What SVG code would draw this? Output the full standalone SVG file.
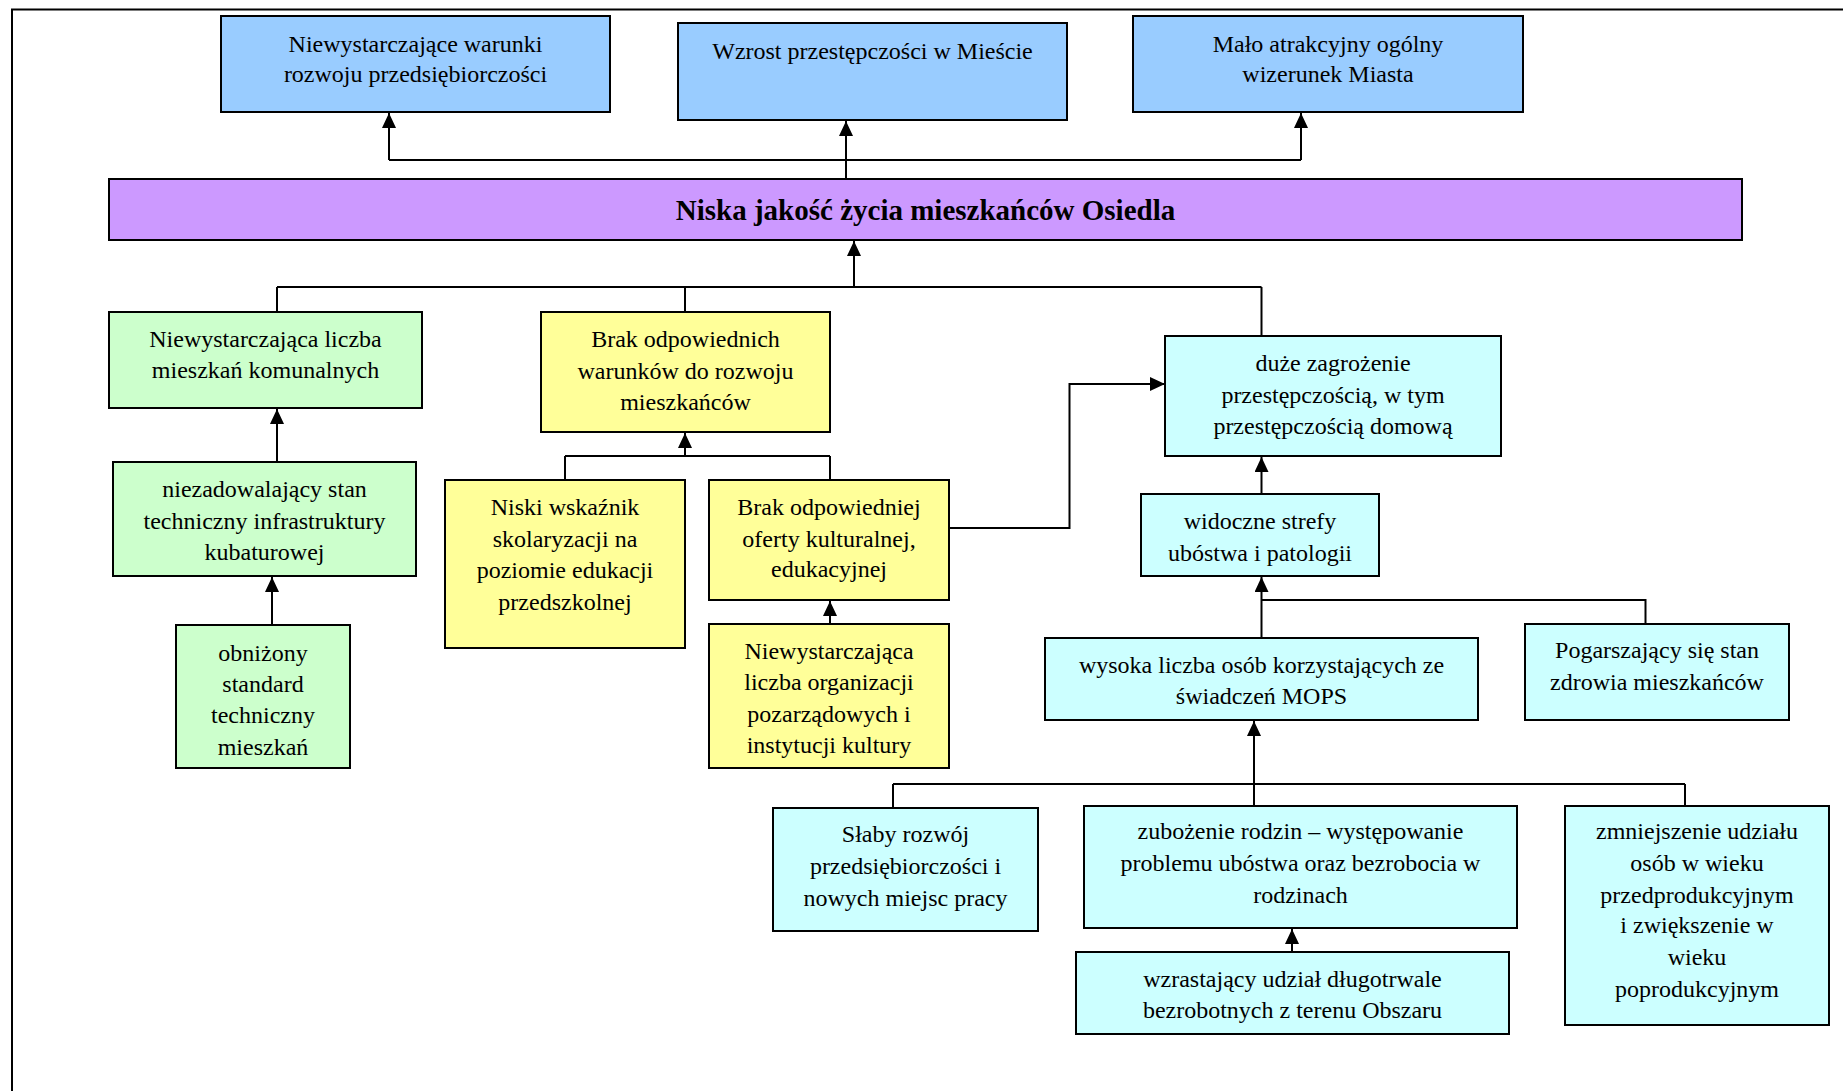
<svg xmlns="http://www.w3.org/2000/svg" width="1843" height="1091" viewBox="0 0 1843 1091">
<style>
.box{stroke:#000;stroke-width:2}
.blue{fill:#99CCFF}.purple{fill:#CC99FF}.green{fill:#CCFFCC}.yellow{fill:#FFFF99}.cyan{fill:#CCFFFF}
text{font-family:"Liberation Serif","Times New Roman",serif;font-size:24px;fill:#000;text-anchor:middle}
.title{font-size:29px;font-weight:bold}
.ln{fill:none;stroke:#000;stroke-width:2}
.ar{marker-end:url(#ah)}
</style>
<defs>
<marker id="ah" markerWidth="15" markerHeight="14" refX="15" refY="7" orient="auto" markerUnits="userSpaceOnUse">
<path d="M0,0 L15,7 L0,14 z" fill="#000"/>
</marker>
</defs>
<rect width="1843" height="1091" fill="#fff"/>
<g id="frame"><path class="ln" d="M12,1091 V9.5 H1843"/></g>

<g id="connectors">
<path class="ln ar" d="M846,179 V121"/>
<path class="ln" d="M389,160 H1301"/>
<path class="ln ar" d="M389,160 V113"/>
<path class="ln ar" d="M1301,160 V113"/>
<path class="ln ar" d="M854,287 V241"/>
<path class="ln" d="M277,287 H1261.5"/>
<path class="ln" d="M277,287 V312"/>
<path class="ln" d="M685,287 V312"/>
<path class="ln" d="M1261.5,287 V336"/>
<path class="ln ar" d="M277,462 V409"/>
<path class="ln ar" d="M272,625 V577"/>
<path class="ln ar" d="M685,456 V433"/>
<path class="ln" d="M565,456 H830"/>
<path class="ln" d="M565,456 V480"/>
<path class="ln" d="M830,456 V480"/>
<path class="ln ar" d="M830,624 V601"/>
<path class="ln ar" d="M949,528 H1069.5 V384 H1165"/>
<path class="ln ar" d="M1261.5,494 V457"/>
<path class="ln ar" d="M1261.5,638 V577"/>
<path class="ln" d="M1261.5,600 H1645.5 V624"/>
<path class="ln ar" d="M1254,784 V721"/>
<path class="ln" d="M893,784 H1685"/>
<path class="ln" d="M893,784 V808"/>
<path class="ln" d="M1254,784 V806"/>
<path class="ln" d="M1685,784 V806"/>
<path class="ln ar" d="M1292,952 V929"/>
</g>

<g id="n1"><rect class="box blue" x="221" y="16" width="389" height="96"/>
<text x="415.5" y="52">Niewystarczające warunki</text><text x="415.5" y="82">rozwoju przedsiębiorczości</text></g>
<g id="n2"><rect class="box blue" x="678" y="23" width="389" height="97"/>
<text x="872.5" y="59">Wzrost przestępczości w Mieście</text></g>
<g id="n3"><rect class="box blue" x="1133" y="16" width="390" height="96"/>
<text x="1328" y="52">Mało atrakcyjny ogólny</text><text x="1328" y="82">wizerunek Miasta</text></g>
<g id="main"><rect class="box purple" x="109" y="179" width="1633" height="61"/>
<text class="title" x="925.5" y="220">Niska jakość życia mieszkańców Osiedla</text></g>

<g id="g1"><rect class="box green" x="109" y="312" width="313" height="96"/>
<text x="265.5" y="347">Niewystarczająca liczba</text><text x="265.5" y="378">mieszkań komunalnych</text></g>
<g id="g2"><rect class="box green" x="113" y="462" width="303" height="114"/>
<text x="264.5" y="497">niezadowalający stan</text><text x="264.5" y="529">techniczny infrastruktury</text><text x="264.5" y="560">kubaturowej</text></g>
<g id="g3"><rect class="box green" x="176" y="625" width="174" height="143"/>
<text x="263" y="661">obniżony</text><text x="263" y="692">standard</text><text x="263" y="723">techniczny</text><text x="263" y="755">mieszkań</text></g>

<g id="y1"><rect class="box yellow" x="541" y="312" width="289" height="120"/>
<text x="685.5" y="347">Brak odpowiednich</text><text x="685.5" y="379">warunków do rozwoju</text><text x="685.5" y="410">mieszkańców</text></g>
<g id="y2"><rect class="box yellow" x="445" y="480" width="240" height="168"/>
<text x="565" y="515">Niski wskaźnik</text><text x="565" y="547">skolaryzacji na</text><text x="565" y="578">poziomie edukacji</text><text x="565" y="610">przedszkolnej</text></g>
<g id="y3"><rect class="box yellow" x="709" y="480" width="240" height="120"/>
<text x="829" y="515">Brak odpowiedniej</text><text x="829" y="547">oferty kulturalnej,</text><text x="829" y="577">edukacyjnej</text></g>
<g id="y4"><rect class="box yellow" x="709" y="624" width="240" height="144"/>
<text x="829" y="659">Niewystarczająca</text><text x="829" y="690">liczba organizacji</text><text x="829" y="722">pozarządowych i</text><text x="829" y="753">instytucji kultury</text></g>

<g id="c1"><rect class="box cyan" x="1165" y="336" width="336" height="120"/>
<text x="1333" y="371">duże zagrożenie</text><text x="1333" y="403">przestępczością, w tym</text><text x="1333" y="434">przestępczością domową</text></g>
<g id="c2"><rect class="box cyan" x="1141" y="494" width="238" height="82"/>
<text x="1260" y="529">widoczne strefy</text><text x="1260" y="561">ubóstwa i patologii</text></g>
<g id="c3"><rect class="box cyan" x="1045" y="638" width="433" height="82"/>
<text x="1261.5" y="673">wysoka liczba osób korzystających ze</text><text x="1261.5" y="704">świadczeń MOPS</text></g>
<g id="c4"><rect class="box cyan" x="1525" y="624" width="264" height="96"/>
<text x="1657" y="658">Pogarszający się stan</text><text x="1657" y="690">zdrowia mieszkańców</text></g>
<g id="c5"><rect class="box cyan" x="773" y="808" width="265" height="123"/>
<text x="905.5" y="842">Słaby rozwój</text><text x="905.5" y="874">przedsiębiorczości i</text><text x="905.5" y="906">nowych miejsc pracy</text></g>
<g id="c6"><rect class="box cyan" x="1084" y="806" width="433" height="122"/>
<text x="1300.5" y="839">zubożenie rodzin – występowanie</text><text x="1300.5" y="871">problemu ubóstwa oraz bezrobocia w</text><text x="1300.5" y="903">rodzinach</text></g>
<g id="c7"><rect class="box cyan" x="1076" y="952" width="433" height="82"/>
<text x="1292.5" y="987">wzrastający udział długotrwale</text><text x="1292.5" y="1018">bezrobotnych z terenu Obszaru</text></g>
<g id="c8"><rect class="box cyan" x="1565" y="806" width="264" height="219"/>
<text x="1697" y="839">zmniejszenie udziału</text><text x="1697" y="871">osób w wieku</text><text x="1697" y="903">przedprodukcyjnym</text><text x="1697" y="933">i zwiększenie w</text><text x="1697" y="965">wieku</text><text x="1697" y="997">poprodukcyjnym</text></g>
</svg>
